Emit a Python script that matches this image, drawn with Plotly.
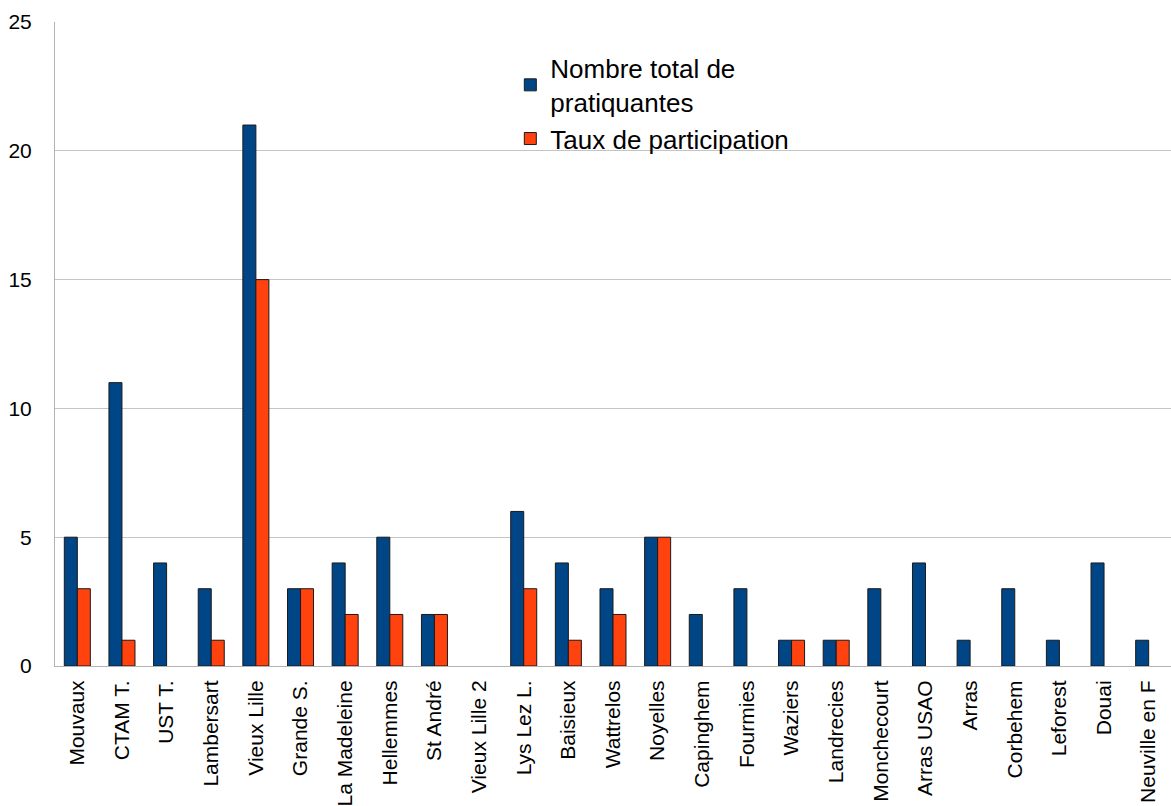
import plotly.graph_objects as go

clubs = ["Mouvaux", "CTAM T.", "UST T.", "Lambersart", "Vieux Lille", "Grande S.",
         "La Madeleine", "Hellemmes", "St André", "Vieux Lille 2", "Lys Lez L.",
         "Baisieux", "Wattrelos", "Noyelles", "Capinghem", "Fourmies", "Waziers",
         "Landrecies", "Monchecourt", "Arras USAO", "Arras", "Corbehem", "Leforest",
         "Douai", "Neuville en F"]
total_pratiquantes = [5, 11, 4, 3, 21, 3, 4, 5, 2, 0, 6, 4, 3, 5, 2, 3, 1, 1, 3, 4, 1, 3, 1, 4, 1]
taux_participation = [3, 1, 0, 1, 15, 3, 2, 2, 2, 0, 3, 1, 2, 5, 0, 0, 1, 1, 0, 0, 0, 0, 0, 0, 0]

font = "Liberation Sans, Arial, sans-serif"


def outline_widths(values):
    # no outline on empty bars, so a zero value leaves no mark
    return [1 if v > 0 else 0 for v in values]


fig = go.Figure()
fig.add_trace(go.Bar(
    x=clubs, y=total_pratiquantes, name="Nombre total de<br>pratiquantes",
    marker=dict(color="#004586",
                line=dict(color="#1a1a1a", width=outline_widths(total_pratiquantes))),
))
fig.add_trace(go.Bar(
    x=clubs, y=taux_participation, name="Taux de participation",
    marker=dict(color="#ff420e",
                line=dict(color="#1a1a1a", width=outline_widths(taux_participation))),
))

fig.update_layout(
    width=1171, height=806,
    margin=dict(l=55, r=0, t=22, b=140),
    paper_bgcolor="white", plot_bgcolor="white",
    barmode="group", bargap=0.417, bargroupgap=0,
    font=dict(family=font, size=21, color="black"),
    showlegend=True,
    legend=dict(
        x=0.408, y=0.965, xanchor="left", yanchor="top",
        font=dict(family=font, size=26, color="black"),
        bgcolor="rgba(0,0,0,0)", itemwidth=30, tracegroupgap=0,
    ),
)
fig.update_xaxes(
    tickangle=-90, tickfont=dict(size=21),
    showline=True, linecolor="#b3b3b3", linewidth=1,
    ticks="", showgrid=False, ticklabelstandoff=5,
)
fig.update_yaxes(
    range=[0, 25], dtick=5, tick0=0,
    tickfont=dict(size=21),
    showline=True, linecolor="#b3b3b3", linewidth=1,
    showgrid=True, gridcolor="#c4c4c4", gridwidth=1,
    zeroline=False, ticks="", ticklabelstandoff=18,
)

fig.write_html("out.html")
